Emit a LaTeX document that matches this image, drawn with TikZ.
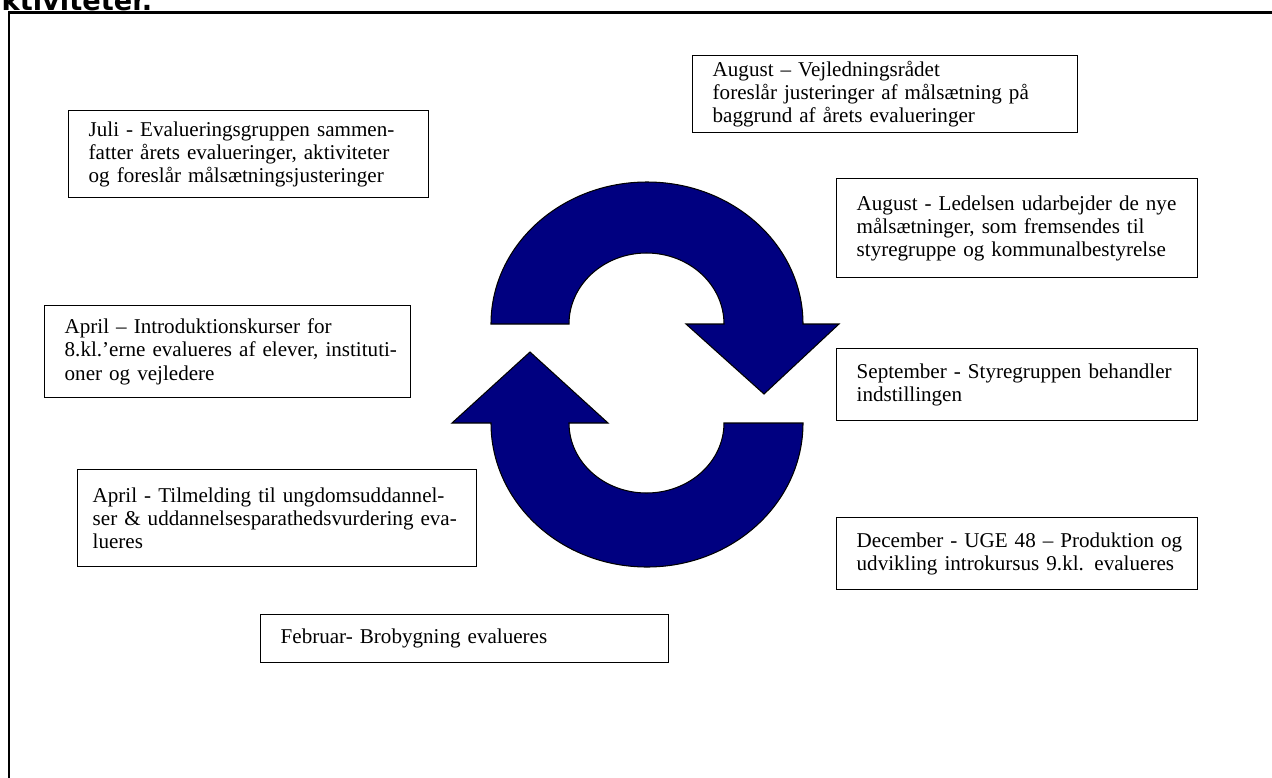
\documentclass[tikz,border=0pt]{standalone}
\usepackage{fontspec}
\setmainfont{Liberation Serif}
\newfontfamily\headfont{DejaVu Sans}
\usetikzlibrary{positioning}

\begin{document}
\begin{tikzpicture}[x=0.02cm,y=0.02cm,
    evalbox/.style={draw, line width=0.8pt, anchor=north west,
      inner xsep=0.1cm, inner ysep=2pt, font=\fontsize{12}{13.2}\selectfont,
      execute at begin node={\leftskip=0.3cm}},
    cyclearrow/.style={fill={rgb,255:red,0;green,0;blue,128}, draw=black, line width=0.6pt}]
  \useasboundingbox (0,0) rectangle (1272,-778);
  \clip (0,0) rectangle (1272,-778);
  \node[anchor=base west, font=\headfont\bfseries\fontsize{15.5}{17}\selectfont, inner sep=0pt]
    (heading) at (-17,-10) {aktiviteter.};
  \draw[line width=0.06cm] (9,-778) -- (9,-12) -- (1272,-12);

  \node[evalbox, text width=7cm, minimum height=1.74cm] (juli) at (68,-110)
    {Juli - Evalueringsgruppen sammen-\\fatter årets evalueringer, aktiviteter\\og foreslår målsætningsjusteringer};
  \node[evalbox, text width=7.5cm, minimum height=1.54cm] (vejledning) at (692,-55)
    {August – Vejledningsrådet\\foreslår justeringer af målsætning på\\baggrund af årets evalueringer};
  \node[evalbox, text width=7.02cm, minimum height=1.98cm] (ledelsen) at (836,-178)
    {August - Ledelsen udarbejder de nye\\målsætninger, som fremsendes til\\styregruppe og kommunalbestyrelse};
  \node[evalbox, text width=7.02cm, minimum height=1.44cm] (styregruppe) at (836,-348)
    {September - Styregruppen behandler\\indstillingen};
  \node[evalbox, text width=7.02cm, minimum height=1.44cm] (december) at (836,-517)
    {December - UGE 48 – Produktion og\\udvikling introkursus 9.kl. evalueres};
  \node[evalbox, text width=7.96cm, minimum height=0.96cm] (februar) at (260,-614)
    {Februar- Brobygning evalueres};
  \node[evalbox, text width=7.12cm, minimum height=1.84cm] (introkursus) at (44,-305)
    {April – Introduktionskurser for\\8.kl.’erne evalueres af elever, instituti-\\oner og vejledere};
  \node[evalbox, text width=7.78cm, minimum height=1.94cm,
    execute at begin node={\leftskip=0.2cm}] (tilmelding) at (77,-469)
    {April - Tilmelding til ungdomsuddannel-\\ser \& uddannelsesparathedsvurdering eva-\\lueres};

  \draw[cyclearrow] (491,-324) arc[start angle=180, end angle=0, x radius=156, y radius=142]
    -- (839,-324) -- (764,-394) -- (686,-324) -- (724,-324)
    arc[start angle=0, end angle=180, x radius=77.5, y radius=71] -- cycle;
  \draw[cyclearrow] (803,-423) arc[start angle=0, end angle=-180, x radius=156, y radius=144]
    -- (452,-423) -- (530,-352) -- (608,-423) -- (569,-423)
    arc[start angle=180, end angle=360, x radius=77.5, y radius=70] -- cycle;
\end{tikzpicture}
\end{document}
